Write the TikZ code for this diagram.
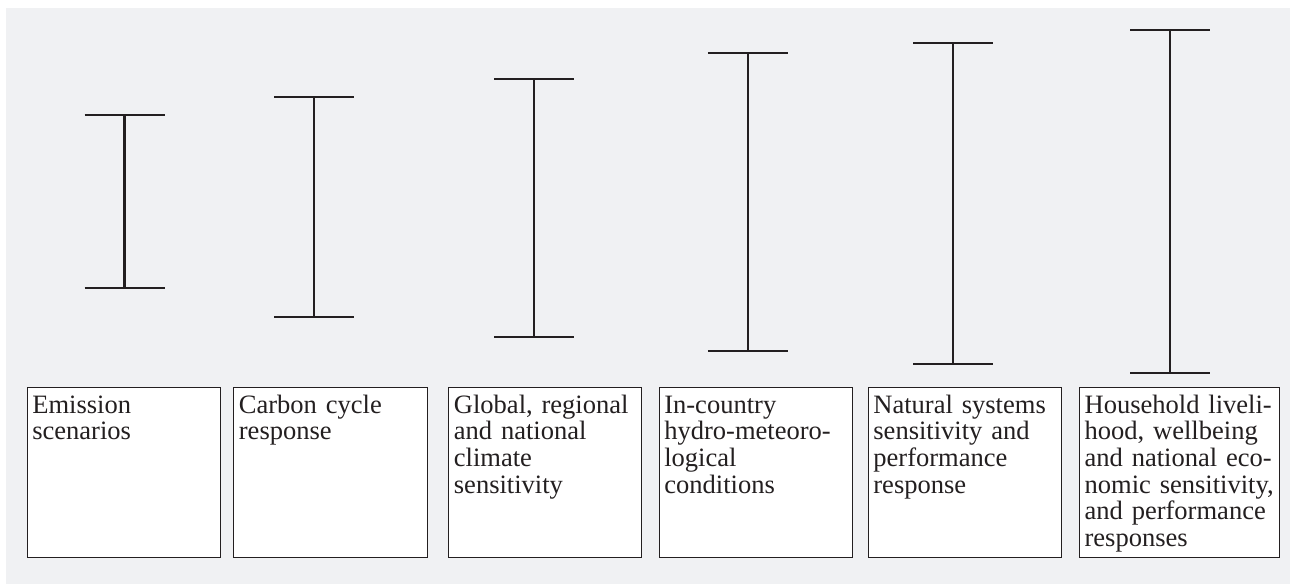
\documentclass[tikz,border=0pt]{standalone}
\usepackage{fontspec}
\setmainfont{Liberation Serif}
\newcommand\oneline[1]{\mbox{#1}}
\definecolor{bgpanel}{HTML}{F0F1F3}
\definecolor{ink}{HTML}{231F20}
\tikzset{
  bar/.style={draw=ink, line width=1.6pt},
  labelbox/.style={draw=ink, line width=0.8pt, fill=white, anchor=north west,
    inner xsep=3.8pt, inner ysep=0pt, align=left,
    text height=19pt, text depth=108.45pt,
    font=\fontsize{19.9}{20}\selectfont, text=ink}
}
\begin{document}
\begin{tikzpicture}[x=0.75pt,y=-0.75pt]
\useasboundingbox (0,0) rectangle (1290,584);
\fill[bgpanel] (6,8) rectangle (1290,584);
% error bars: center x, top y, bottom y
\foreach \n/\cx/\ty/\by in {1/124.5/115.3/288.3, 2/314/97/317, 3/534/78.7/336.7, 4/747.8/52.7/350.7, 5/953/43.3/363.7, 6/1170/30.3/373.3}{
  \coordinate (t\n) at (\cx,\ty);
  \coordinate (b\n) at (\cx,\by);
  \draw[bar] (t\n) -- (b\n);
  \draw[bar] ([xshift=-30pt]t\n) -- ([xshift=30pt]t\n);
  \draw[bar] ([xshift=-30pt]b\n) -- ([xshift=30pt]b\n);
}
\node[labelbox, text width=137.3pt] (box1) at (26.7,387.3) {\oneline{Emission}\\\oneline{scenarios}};
\node[labelbox, text width=137.9pt] (box2) at (233.3,387.3) {\oneline{Carbon cycle}\\\oneline{response}};
\node[labelbox, text width=137.1pt] (box3) at (448.3,387.3) {\oneline{Global, regional}\\\oneline{and national}\\\oneline{climate}\\\oneline{sensitivity}};
\node[labelbox, text width=137.1pt] (box4) at (658.7,387.3) {\oneline{In-country}\\\oneline{hydro-meteoro-}\\\oneline{logical}\\\oneline{conditions}};
\node[labelbox, text width=137.5pt] (box5) at (867.8,387.3) {\oneline{Natural systems}\\\oneline{sensitivity and}\\\oneline{performance}\\\oneline{response}};
\node[labelbox, text width=142.1pt] (box6) at (1079,387.3) {\oneline{Household liveli-}\\\oneline{hood, wellbeing}\\\oneline{and national eco-}\\\oneline{nomic sensitivity,}\\\oneline{and performance}\\\oneline{responses}};
\end{tikzpicture}
\end{document}
